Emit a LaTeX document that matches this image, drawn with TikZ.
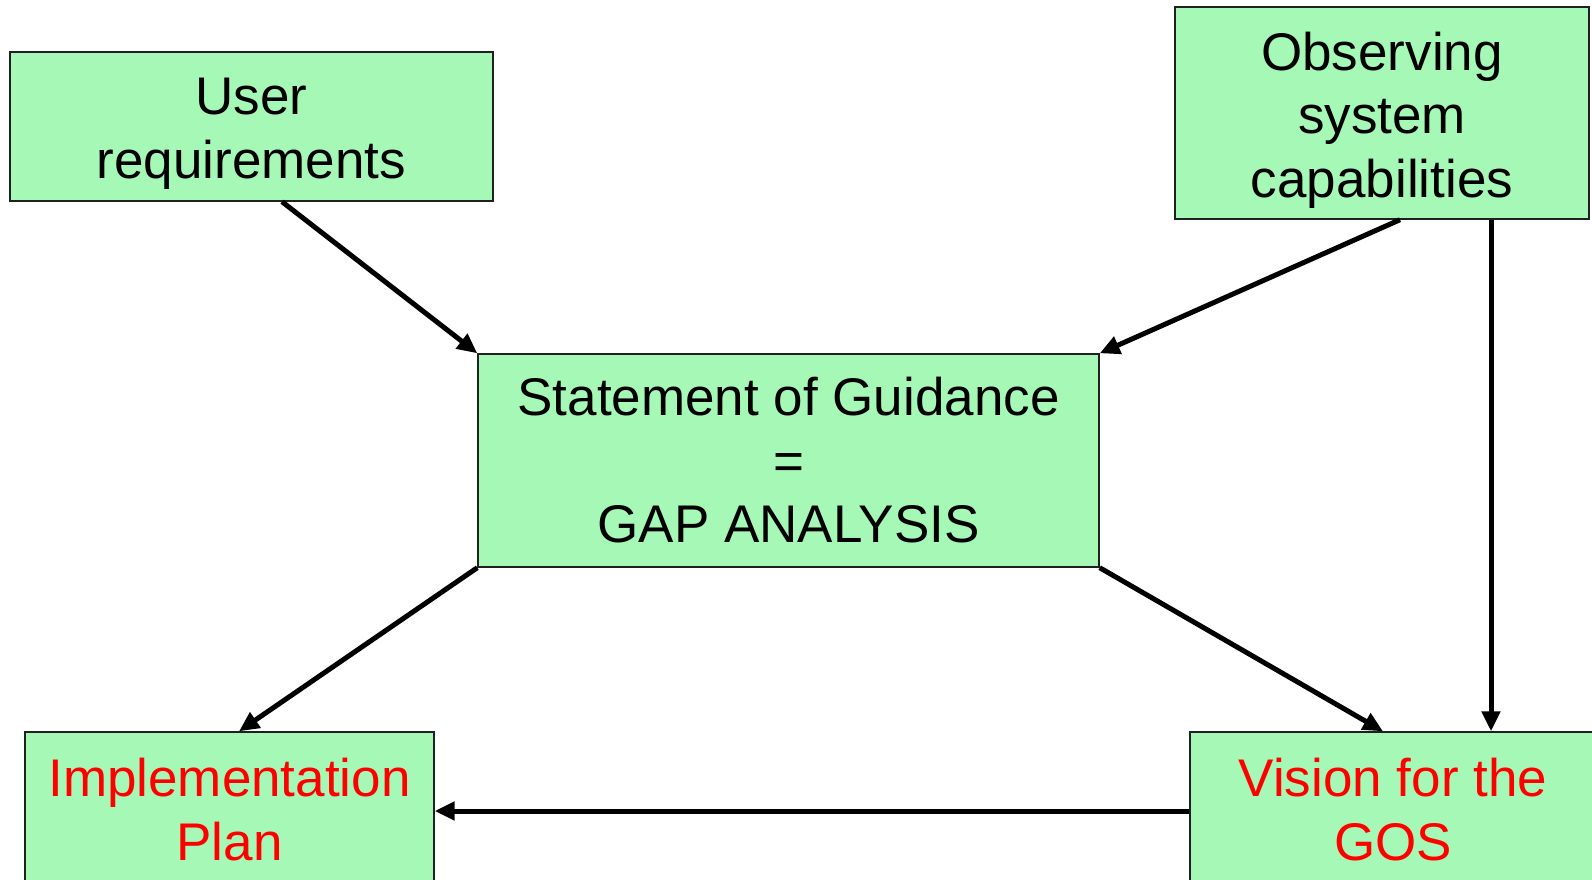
\documentclass[tikz,border=0pt]{standalone}
\usepackage{fontspec}
\setmainfont{Liberation Sans}
\usetikzlibrary{arrows.meta,calc}
\definecolor{boxgreen}{HTML}{A5F8B5}
\definecolor{boxline}{HTML}{202020}
\newcommand{\shiftedtext}[2]{\raisebox{#1}[\height][\depth]{\begin{tabular}{@{}c@{}}#2\end{tabular}}}
\begin{document}
\begin{tikzpicture}[x=1pt,y=-1pt,
  box/.style={draw=boxline,line width=1.4pt,fill=boxgreen,inner sep=0pt,align=center,
    font=\fontsize{53}{63.5}\selectfont},
  conn/.style={line width=5pt,-{Triangle[length=20pt,width=18pt]}}]
\useasboundingbox (0,0) rectangle (1592,880);
\clip (0,0) rectangle (1592,880);
\node[box,minimum width=483pt,minimum height=149pt] (user) at (251.5,126.5) {\shiftedtext{-7.5pt}{User\\requirements}};
\node[box,minimum width=414pt,minimum height=212pt] (obs) at (1382,113) {\shiftedtext{-8pt}{Observing\\system\\capabilities}};
\node[box,minimum width=621pt,minimum height=213pt] (gap) at (788.5,460.5) {Statement of Guidance\\=\\GAP ANALYSIS};
\node[box,minimum width=409pt,minimum height=155pt,text=red] (impl) at (229.5,809.5) {Implementation\\Plan};
\node[box,minimum width=406pt,minimum height=155pt,text=red] (vision) at (1393,809.5) {Vision for the\\GOS};
\draw[conn] ([xshift=30.5pt]user.south) -- (gap.north west);
\draw[conn] ([xshift=18pt]obs.south) -- (gap.north east);
\draw[conn] ([xshift=109pt]obs.south) -- ([xshift=98pt]vision.north);
\draw[conn] (gap.south west) -- ([xshift=9.5pt]impl.north);
\draw[conn] (gap.south east) -- ([xshift=-10pt]vision.north);
\draw[conn] ([yshift=-1.5pt]vision.west) -- ([yshift=-1.5pt]vision.west -| impl.east);
\end{tikzpicture}
\end{document}
